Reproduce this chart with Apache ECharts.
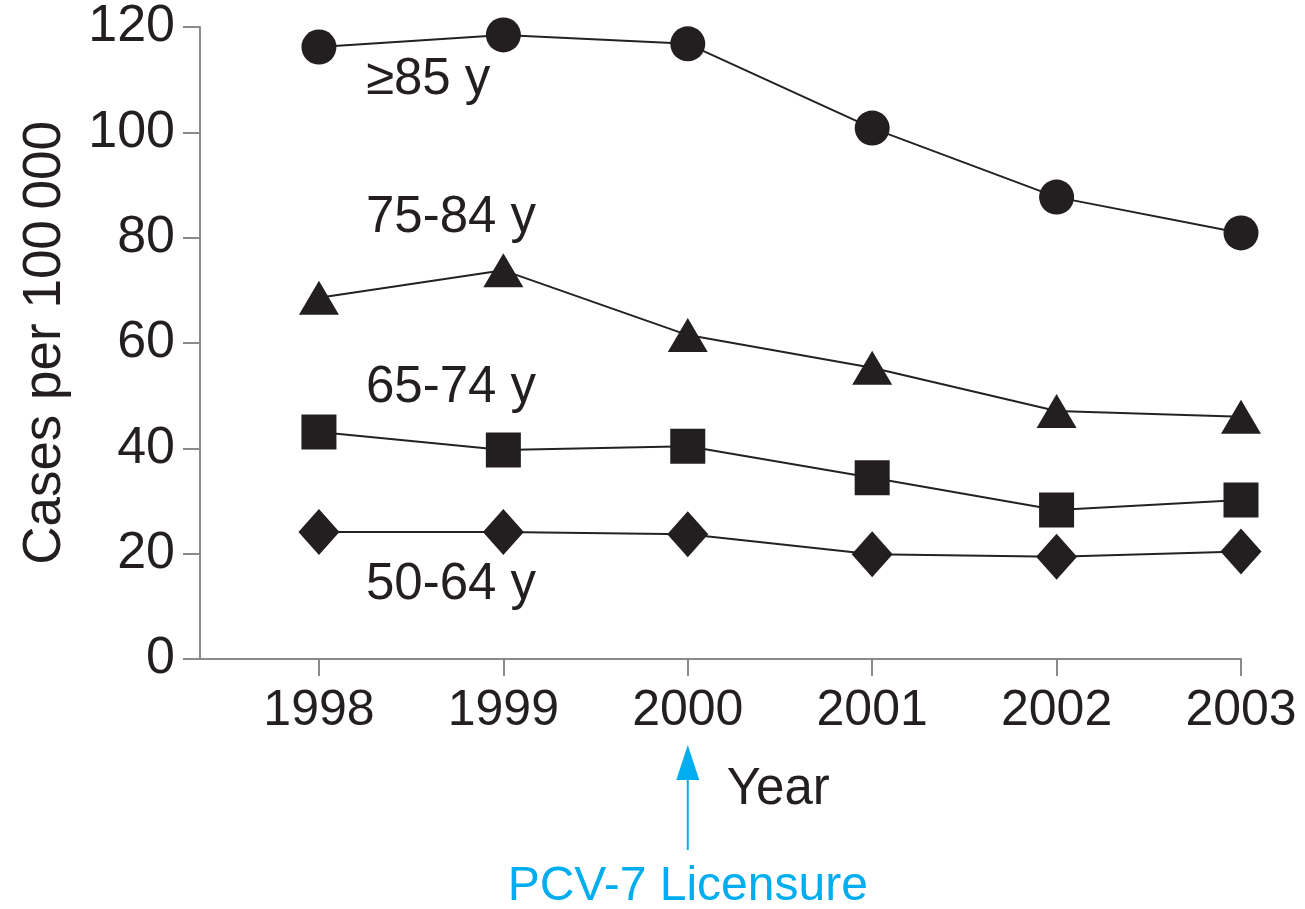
<!DOCTYPE html>
<html>
<head>
<meta charset="utf-8">
<script src="https://cdn.jsdelivr.net/npm/echarts@6/dist/echarts.min.js"></script>
<style>
html,body{margin:0;padding:0;background:#fff;}
#chart{width:1305px;height:909px;}
</style>
</head>
<body>
<div id="chart"></div>
<script>
const years = [1998, 1999, 2000, 2001, 2002, 2003];
const age85plus = [116.2, 118.5, 116.8, 100.8, 87.7, 80.9];
const age75to84 = [68.6, 73.8, 61.5, 55.3, 47.1, 46.0];
const age65to74 = [43.1, 39.7, 40.4, 34.4, 28.3, 30.2];
const age50to64 = [24.1, 24.1, 23.7, 19.9, 19.4, 20.4];
const yTicks = [0, 20, 40, 60, 80, 100, 120];
const seriesLabels = ['\u226585 y', '75-84 y', '65-74 y', '50-64 y'];
// label anchors in data space [year, value]
const labelAnchors = [[1998.255, 110.0], [1998.255, 83.7], [1998.255, 51.4], [1998.255, 14.0]];
const licensureYear = 2000;

const textColor = '#231f20';
const cyan = '#00aeef';
const font = 'Liberation Sans, Arial, Helvetica, sans-serif';

function pairs(vals){ return years.map((y,i)=>[y, vals[i]]); }

const chart = echarts.init(document.getElementById('chart'), null, {renderer:'canvas'});
const lineStyle = {color:'#222', width:2};
function mk(name, vals, symbol, size){
  return {
    name, type:'line', data:pairs(vals), symbol, symbolSize:size,
    showAllSymbol:true, lineStyle, itemStyle:{color:'#231f20'},
    emphasis:{disabled:true}, animation:false, z:3
  };
}
chart.setOption({
  animation:false,
  grid:{left:200, right:64, top:27, bottom:250, containLabel:false},
  xAxis:{
    type:'value', min:1997.355, max:2003,
    splitLine:{show:false},
    axisLine:{show:true, lineStyle:{color:'#8a8a8a', width:2}},
    axisTick:{show:true, customValues:years, length:17, inside:false, lineStyle:{color:'#8a8a8a', width:2}},
    axisLabel:{customValues:years, margin:27, fontSize:50, color:textColor, fontFamily:font,
      formatter:v=>String(v)}
  },
  yAxis:{
    type:'value', min:0, max:120, interval:20,
    splitLine:{show:false},
    axisLine:{show:true, lineStyle:{color:'#8a8a8a', width:2}},
    axisTick:{show:true, length:17, inside:false, lineStyle:{color:'#8a8a8a', width:2}},
    axisLabel:{margin:25, fontSize:52, color:textColor, fontFamily:font},
    name:'Cases per 100\u2009000', nameLocation:'middle', nameGap:128, nameRotate:90,
    nameTextStyle:{fontSize:53, color:textColor, fontFamily:font}
  },
  series:[
    mk('85+', age85plus, 'circle', 35),
    mk('75-84', age75to84, 'triangle', [40,34]),
    mk('65-74', age65to74, 'rect', 35),
    mk('50-64', age50to64, 'diamond', [41,46])
  ]
});

const g = [];
seriesLabels.forEach((t,i)=>{
  const p = chart.convertToPixel({gridIndex:0}, labelAnchors[i]);
  g.push({type:'text', x:p[0], y:p[1], style:{text:t, fontSize:51, fill:textColor, fontFamily:font, align:'left', verticalAlign:'middle'}});
});
const ax = chart.convertToPixel({gridIndex:0}, [licensureYear, 0])[0];
const base = chart.convertToPixel({gridIndex:0}, [licensureYear, 0])[1];
g.push({type:'line', shape:{x1:ax, y1:base+120, x2:ax, y2:base+191}, style:{stroke:cyan, lineWidth:2}});
g.push({type:'polygon', shape:{points:[[ax, base+86],[ax-11.5, base+121],[ax+11.5, base+121]]}, style:{fill:cyan}});
g.push({type:'text', x:ax+39, y:base+131, style:{text:'Year', fontSize:51, fill:textColor, fontFamily:font, align:'left', verticalAlign:'middle'}});
g.push({type:'text', x:ax, y:base+228, style:{text:'PCV-7 Licensure', fontSize:48, fill:cyan, fontFamily:font, align:'center', verticalAlign:'middle'}});
chart.setOption({graphic:g});
</script>
</body>
</html>
